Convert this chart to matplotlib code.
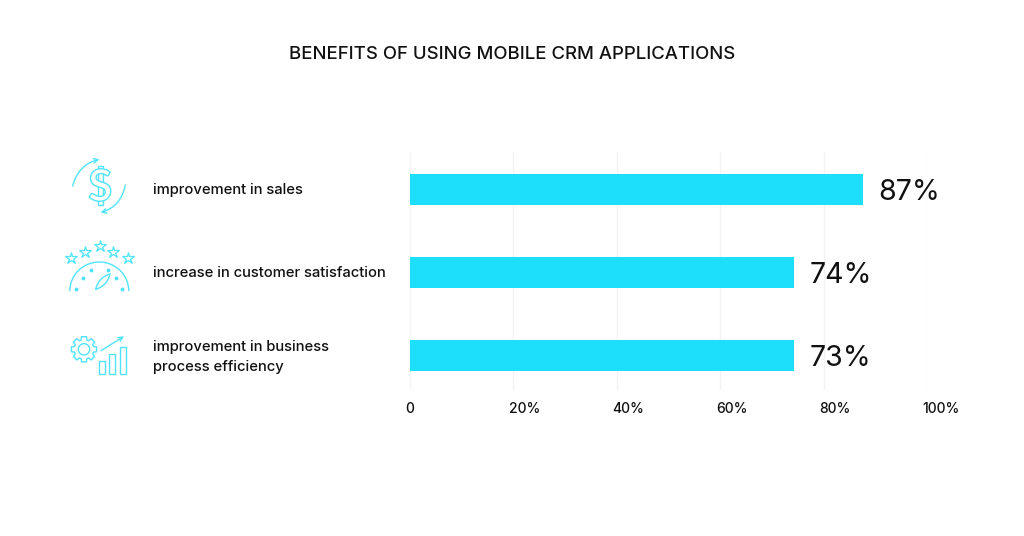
import numpy as np
from matplotlib import pyplot as plt
from matplotlib.patches import Arc, Circle, FancyArrowPatch, PathPatch, Polygon, Rectangle
from matplotlib.textpath import TextPath
from matplotlib.font_manager import FontProperties
from matplotlib.transforms import Affine2D

title = "BENEFITS OF USING MOBILE CRM APPLICATIONS"
categories = [
    "improvement in sales",
    "increase in customer satisfaction",
    "improvement in business\nprocess efficiency",
]
bar_values = [87.5, 74.2, 74.2]
value_labels = ["87%", "74%", "73%"]
tick_values = [0, 20, 40, 60, 80, 100]
tick_labels = ["0", "20%", "40%", "60%", "80%", "100%"]

CYAN = "#1ddffb"
ICON = "#4fe4fb"
W, H = 1024, 536
plt.rcParams["font.family"] = ["Inter", "DejaVu Sans"]


def draw_sales_icon(ax):
    # stubs of the dollar sign go under the white S
    ax.add_patch(Rectangle((97.5, 165.5), 5, 39, fc="white", ec=ICON, lw=1.0))
    fp = FontProperties(family="Lato", weight="bold")
    glyph = TextPath((0, 0), "S", size=44, prop=fp)
    box = glyph.get_extents()
    move = (
        Affine2D()
        .translate(-box.x0 - box.width / 2, -box.y0 - box.height / 2)
        .scale(1, -1)
        .translate(100, 185)
    )
    ax.add_patch(PathPatch(move.transform_path(glyph), fc="white", ec=ICON, lw=1.0))
    for start, end in [((72.7, 186), (99.5, 159.3)), ((125.3, 185), (100.5, 212.7))]:
        ax.add_patch(
            FancyArrowPatch(
                start, end, connectionstyle="arc3,rad=-0.3", arrowstyle="->",
                mutation_scale=8, color=ICON, lw=1.0,
                shrinkA=0, shrinkB=0,
            )
        )


def draw_gauge_icon(ax):
    for x, y in [(70.7, 258.3), (85.3, 252), (99.7, 245.7), (113, 252), (127.7, 258.3)]:
        ax.plot([x], [y], marker="*", ms=9, mfc="white", mec=ICON, mew=0.9)
    ax.add_patch(Arc((99.3, 291), 59, 58, theta1=180, theta2=360, color=ICON, lw=1.0))
    dots_x = [76, 82.7, 90.7, 108, 116, 122.3]
    dots_y = [288.7, 278.3, 270, 270, 278.3, 288.7]
    ax.plot(dots_x, dots_y, ls="none", marker="o", ms=1.8, color=ICON)
    for start, end in [((95.7, 289.3), (110, 274)), ((110, 274), (95.7, 289.3))]:
        ax.add_patch(
            FancyArrowPatch(
                start, end, connectionstyle="arc3,rad=0.3",
                arrowstyle="-", color=ICON, lw=1.0, shrinkA=0, shrinkB=0,
            )
        )


def draw_process_icon(ax):
    # gear outline as a polar polygon with 8 teeth
    cx, cy = 84, 349.3
    pts = []
    for k in range(8):
        a = k * np.pi / 4
        for da, r in [(-0.30, 9.8), (-0.19, 12.8), (0.19, 12.8), (0.30, 9.8)]:
            pts.append((cx + r * np.cos(a + da), cy + r * np.sin(a + da)))
    ax.add_patch(Polygon(pts, closed=True, fc="none", ec=ICON, lw=1.0))
    ax.add_patch(Circle((cx, cy), 5.7, fc="none", ec=ICON, lw=1.0))
    ax.add_patch(
        FancyArrowPatch(
            (101, 350.7), (124, 336.3), arrowstyle="->", mutation_scale=8,
            color=ICON, lw=1.0, shrinkA=0, shrinkB=0,
        )
    )
    for x, y, w, h in [(99, 361, 5.7, 13.3), (109.3, 354.3, 5.7, 20), (120, 347.3, 5.7, 27)]:
        ax.add_patch(Rectangle((x, y), w, h, fc="none", ec=ICON, lw=1.0))


fig = plt.figure(figsize=(W / 100, H / 100), dpi=100, facecolor="white")
ax = fig.add_axes([410 / W, 1 - 390 / H, (927.3 - 410) / W, 238 / H])

y_pos = np.arange(len(categories))
ax.barh(y_pos, bar_values, height=0.37, color=CYAN, zorder=3)
ax.set_xlim(0, 100)
ax.set_ylim(2 + 34.6 / 83, -37.7 / 83)

# the reference starts its tick labels just left of each gridline
ax.set_xticks(tick_values)
ax.set_xticklabels([])
for value, label in zip(tick_values, tick_labels):
    ax.annotate(
        label, xy=(value, 0), xycoords=("data", "axes fraction"),
        xytext=(-3.3, -13.7), textcoords="offset points",
        ha="left", va="center", fontsize=10, color="#111111", weight="medium",
    )

ax.set_yticks(y_pos)
ax.set_yticklabels([])
# two line label sits a little lower than a plain centre
for y, label, nudge in zip(y_pos, categories, [-0.3, -0.3, -0.8]):
    ax.annotate(
        label, xy=(0, y), xycoords=("axes fraction", "data"),
        xytext=(-184.7, nudge), textcoords="offset points",
        ha="left", va="center", fontsize=10.6, color="#111111",
        linespacing=1.55, weight="medium",
    )
ax.tick_params(axis="both", length=0)
ax.grid(axis="x", color="#f3f3f3", lw=1.0, zorder=0)
for spine in ax.spines.values():
    spine.set_visible(False)

for y, value, label in zip(y_pos, bar_values, value_labels):
    ax.annotate(
        label, xy=(value, y), xytext=(11.5, 0), textcoords="offset points",
        va="center_baseline", ha="left", fontsize=20.5, color="#111111",
    )

overlay = fig.add_axes([0, 0, 1, 1], zorder=-1)
overlay.set_xlim(0, W)
overlay.set_ylim(H, 0)
overlay.axis("off")
draw_sales_icon(overlay)
draw_gauge_icon(overlay)
draw_process_icon(overlay)
ax.patch.set_alpha(0)

fig.text(512.5 / W, 1 - 54.5 / H, title, ha="center", va="center", fontsize=13.35, color="#111111", weight="medium")

fig.savefig("out.png", dpi=100)
